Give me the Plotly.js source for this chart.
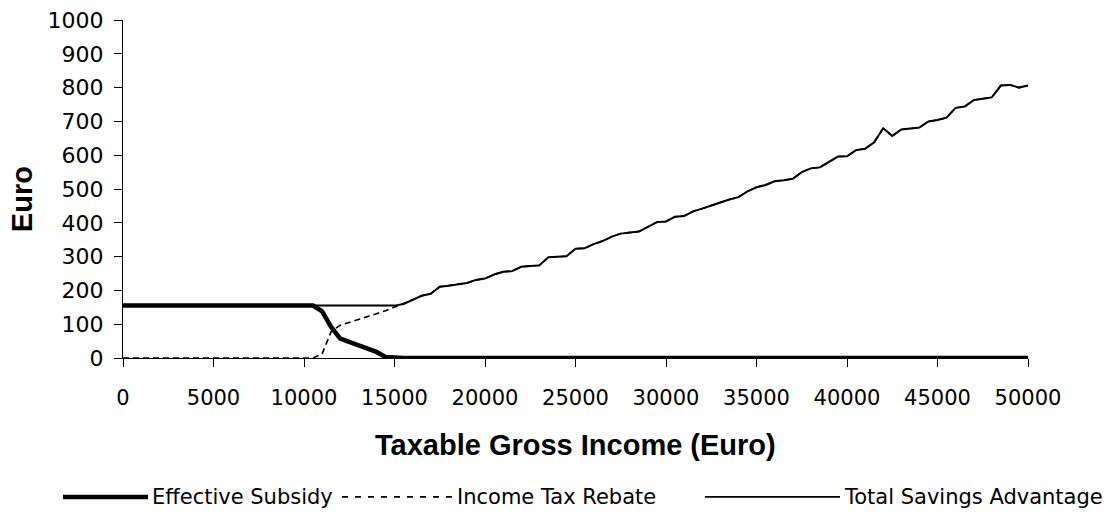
<!DOCTYPE html>
<html>
<head>
<meta charset="utf-8">
<script src="https://cdn.plot.ly/plotly-3.0.1.min.js"></script>
<style>
html,body{margin:0;padding:0;background:#fff;}
#chart{width:1115px;height:518px;}
</style>
</head>
<body>
<div id="chart"></div>
<script>
var income = [0,500,1000,1500,2000,2500,3000,3500,4000,4500,
  5000,5500,6000,6500,7000,7500,8000,8500,9000,9500,
  10000,10500,11000,11500,12000,12500,13000,13500,14000,14500,
  15000,15500,16000,16500,17000,17500,18000,18500,19000,19500,
  20000,20500,21000,21500,22000,22500,23000,23500,24000,24500,
  25000,25500,26000,26500,27000,27500,28000,28500,29000,29500,
  30000,30500,31000,31500,32000,32500,33000,33500,34000,34500,
  35000,35500,36000,36500,37000,37500,38000,38500,39000,39500,
  40000,40500,41000,41500,42000,42500,43000,43500,44000,44500,
  45000,45500,46000,46500,47000,47500,48000,48500,49000,49500,
  50000];

var effectiveSubsidy = [155,155,155,155,155,155,155,155,155,155,
  155,155,155,155,155,155,155,155,155,155,
  155,155,138,92,57,48,38,28,18,3,
  0,0,0,0,0,0,0,0,0,0,
  0,0,0,0,0,0,0,0,0,0,
  0,0,0,0,0,0,0,0,0,0,
  0,0,0,0,0,0,0,0,0,0,
  0,0,0,0,0,0,0,0,0,0,
  0,0,0,0,0,0,0,0,0,0,
  0,0,0,0,0,0,0,0,0,0,
  0];

var incomeTaxRebate = [0,0,0,0,0,0,0,0,0,0,
  0,0,0,0,0,0,0,0,0,0,
  0,0,12,78,97,105,114,122,131,140,
  150,160,172,184,190,211,214,217,222,231,
  235,247,255,257,270,272,274,298,299,301,
  323,325,337,346,359,368,371,374,388,402,
  404,418,420,434,442,450,460,469,476,493,
  505,512,523,526,530,550,561,564,580,596,
  597,615,619,638,680,657,676,678,682,700,
  704,711,740,744,763,767,771,806,808,800,
  806];

var totalSavings = [155,155,155,155,155,155,155,155,155,155,
  155,155,155,155,155,155,155,155,155,155,
  155,155,155,155,155,155,155,155,155,155,
  155,160,172,184,190,211,214,217,222,231,
  235,247,255,257,270,272,274,298,299,301,
  323,325,337,346,359,368,371,374,388,402,
  404,418,420,434,442,450,460,469,476,493,
  505,512,523,526,530,550,561,564,580,596,
  597,615,619,638,680,657,676,678,682,700,
  704,711,740,744,763,767,771,806,808,800,
  806];

var seriesNames = ['Effective Subsidy', 'Income Tax Rebate', 'Total Savings Advantage'];
var xTitle = 'Taxable Gross Income (Euro)';
var yTitle = 'Euro';

var TICKFONT = '"DejaVu Sans", sans-serif';
var TITLEFONT = 'Arial, "Liberation Sans", sans-serif';

var traces = [
  {x: income, y: totalSavings, name: seriesNames[2], type: 'scatter', mode: 'lines',
   line: {color: '#000', width: 2}, showlegend: false},
  {x: income, y: incomeTaxRebate, name: seriesNames[1], type: 'scatter', mode: 'lines',
   line: {color: '#000', width: 1.6, dash: '6px,4px'}, showlegend: false},
  {x: income, y: effectiveSubsidy, name: seriesNames[0], type: 'scatter', mode: 'lines',
   line: {color: '#000', width: 4.5}, showlegend: false}
];

// Manual legend (decoration only), in paper coordinates below the plot
var legY = -0.411;
var legendItems = [
  {x0: -0.0663, x1: 0.0276, width: 4.5, dash: 'solid', tx: 0.0298},
  {x0: 0.2420, x1: 0.3646, width: 1.8, dash: '6px,7px', tx: 0.3669},
  {x0: 0.6430, x1: 0.7923, width: 1.8, dash: 'solid', tx: 0.7945}
];
var shapes = [], annotations = [];
legendItems.forEach(function (it, i) {
  shapes.push({type: 'line', xref: 'paper', yref: 'paper', x0: it.x0, x1: it.x1, y0: legY, y1: legY,
               line: {color: '#000', width: it.width, dash: it.dash}});
  annotations.push({xref: 'paper', yref: 'paper', x: it.tx, y: legY, xanchor: 'left', yanchor: 'middle',
                    showarrow: false, text: seriesNames[i], font: {family: TICKFONT, size: 21, color: '#000'}});
});
annotations.push({xref: 'paper', yref: 'paper', x: 0.5, y: -0.2574, xanchor: 'center', yanchor: 'middle',
                  showarrow: false, text: '<b>' + xTitle + '</b>', font: {family: TITLEFONT, size: 29, color: '#000'}});
annotations.push({xref: 'paper', yref: 'paper', x: -0.1116, y: 0.470, xanchor: 'center', yanchor: 'middle',
                  textangle: -90, showarrow: false, text: '<b>' + yTitle + '</b>', font: {family: TITLEFONT, size: 29, color: '#000'}});

var layout = {
  width: 1115, height: 518,
  margin: {l: 123, r: 87, t: 20, b: 160},
  paper_bgcolor: '#fff', plot_bgcolor: '#fff',
  font: {family: TICKFONT, size: 21, color: '#000'},
  showlegend: false,
  shapes: shapes,
  annotations: annotations,
  xaxis: {
    range: [0, 50000], tick0: 0, dtick: 5000, tickmode: 'linear', tickformat: 'd',
    ticks: 'outside', ticklen: 8, tickcolor: '#000', tickwidth: 1,
    showline: true, linecolor: '#000', linewidth: 1, mirror: false,
    showgrid: false, zeroline: false, automargin: false, ticklabelstandoff: 13,
    tickfont: {family: TICKFONT, size: 21, color: '#000'}
  },
  yaxis: {
    range: [0, 1000], tick0: 0, dtick: 100, tickmode: 'linear', tickformat: 'd',
    ticks: 'outside', ticklen: 8, tickcolor: '#000', tickwidth: 1,
    showline: true, linecolor: '#000', linewidth: 1,
    showgrid: false, zeroline: false, automargin: false, ticklabelstandoff: 6,
    tickfont: {family: TICKFONT, size: 22, color: '#000'}
  }
};

Plotly.newPlot('chart', traces, layout, {displayModeBar: false, staticPlot: true});
</script>
</body>
</html>
